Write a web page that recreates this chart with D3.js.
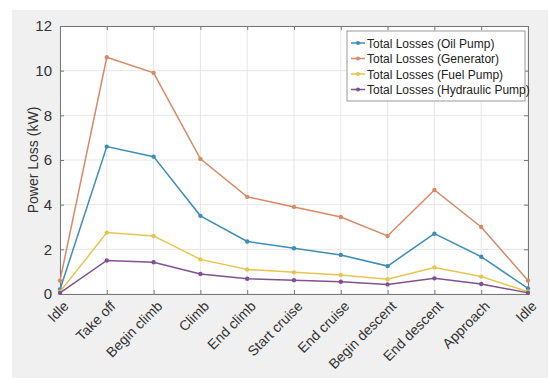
<!DOCTYPE html>
<html>
<head>
<meta charset="utf-8">
<script src="https://cdn.jsdelivr.net/npm/d3@7"></script>
<style>
  body { margin: 0; background: #fff; }
  text { font-family: "Liberation Sans", Arial, sans-serif; }
</style>
</head>
<body>
<div id="chart"></div>
<script>
var phases = ['Idle', 'Take off', 'Begin climb', 'Climb', 'End climb', 'Start cruise',
              'End cruise', 'Begin descent', 'End descent', 'Approach', 'Idle'];

var oilPump = [0.2, 6.6, 6.15, 3.5, 2.35, 2.05, 1.75, 1.25, 2.7, 1.67, 0.25];
var generator = [0.6, 10.6, 9.9, 6.05, 4.35, 3.9, 3.45, 2.6, 4.66, 3.0, 0.6];
var fuelPump = [0.1, 2.75, 2.6, 1.55, 1.1, 0.97, 0.85, 0.66, 1.19, 0.78, 0.1];
var hydraulicPump = [0.05, 1.5, 1.42, 0.9, 0.68, 0.62, 0.55, 0.43, 0.7, 0.45, 0.05];

var yTicks = [0, 2, 4, 6, 8, 10, 12];

var series = [
  {name: 'Total Losses (Oil Pump)', values: oilPump, color: '#3d8db7'},
  {name: 'Total Losses (Generator)', values: generator, color: '#d68a66'},
  {name: 'Total Losses (Fuel Pump)', values: fuelPump, color: '#e6c550'},
  {name: 'Total Losses (Hydraulic Pump)', values: hydraulicPump, color: '#7e5190'}
];

var size = {width: 550, height: 390};
var margin = {left: 60, top: 26, right: 22, bottom: 96};

var svg = d3.select('#chart').append('svg')
  .attr('width', size.width)
  .attr('height', size.height);

// gray figure background
svg.append('rect')
  .attr('x', 12).attr('y', 10)
  .attr('width', 536).attr('height', 368)
  .attr('fill', '#f0f0f0');

var w = size.width - margin.left - margin.right;
var h = size.height - margin.top - margin.bottom;

var g = svg.append('g').attr('transform', 'translate(' + margin.left + ',' + margin.top + ')');

var x = d3.scaleLinear().domain([0, phases.length - 1]).range([0, w]);
var y = d3.scaleLinear().domain([0, 12]).range([h, 0]);

g.append('rect').attr('width', w).attr('height', h).attr('fill', '#fff');

// grid
g.selectAll('.vgrid').data(d3.range(phases.length)).enter().append('line')
  .attr('x1', function(d) { return x(d); }).attr('x2', function(d) { return x(d); })
  .attr('y1', 0).attr('y2', h)
  .attr('stroke', '#e6e6e6').attr('stroke-width', 1);
g.selectAll('.hgrid').data(yTicks).enter().append('line')
  .attr('x1', 0).attr('x2', w)
  .attr('y1', function(d) { return y(d); }).attr('y2', function(d) { return y(d); })
  .attr('stroke', '#e6e6e6').attr('stroke-width', 1);

// axes
var xAxis = d3.axisBottom(x).tickValues(d3.range(phases.length))
  .tickFormat(function(i) { return phases[i]; }).tickSizeInner(-4).tickSizeOuter(0);
var yAxis = d3.axisLeft(y).tickValues(yTicks).tickSizeInner(-4).tickSizeOuter(0).tickPadding(8);

var gx = g.append('g').attr('transform', 'translate(0,' + h + ')').call(xAxis);
gx.selectAll('text')
  .attr('transform', 'rotate(-45)')
  .attr('text-anchor', 'end')
  .attr('dx', '-0.2em').attr('dy', '0.9em')
  .attr('font-size', 14).attr('fill', '#333');

var gy = g.append('g').call(yAxis);
gy.selectAll('text').attr('font-size', 15).attr('fill', '#333');

// box top/right with ticks
g.append('g').call(d3.axisTop(x).tickValues(d3.range(phases.length)).tickFormat('').tickSizeInner(-4).tickSizeOuter(0));
g.append('g').attr('transform', 'translate(' + w + ',0)')
  .call(d3.axisRight(y).tickValues(yTicks).tickFormat('').tickSizeInner(-4).tickSizeOuter(0));

g.selectAll('.domain').attr('stroke', '#777');
g.selectAll('.tick line').attr('stroke', '#777');

svg.append('text')
  .attr('transform', 'translate(38,' + (margin.top + h / 2) + ') rotate(-90)')
  .attr('text-anchor', 'middle')
  .attr('font-size', 14).attr('fill', '#333')
  .text('Power Loss (kW)');

// lines
var line = d3.line().x(function(d, i) { return x(i); }).y(function(d) { return y(d); });

series.forEach(function(s) {
  g.append('path').datum(s.values)
    .attr('d', line).attr('fill', 'none')
    .attr('stroke', s.color).attr('stroke-width', 1.5);
  g.selectAll(null).data(s.values).enter().append('circle')
    .attr('cx', function(d, i) { return x(i); })
    .attr('cy', function(d) { return y(d); })
    .attr('r', 2.2).attr('fill', s.color);
});

// legend
var lg = svg.append('g').attr('transform', 'translate(347,31)');
lg.append('rect').attr('width', 178).attr('height', 70)
  .attr('fill', '#fff').attr('stroke', '#999');
series.forEach(function(s, i) {
  var yy = 12 + i * 15.5;
  lg.append('line').attr('x1', 4).attr('x2', 18).attr('y1', yy).attr('y2', yy)
    .attr('stroke', s.color).attr('stroke-width', 1.5);
  lg.append('circle').attr('cx', 11).attr('cy', yy).attr('r', 2).attr('fill', s.color);
  lg.append('text').attr('x', 20).attr('y', yy + 4.5)
    .attr('font-size', 12).attr('fill', '#222').text(s.name);
});
</script>
</body>
</html>
